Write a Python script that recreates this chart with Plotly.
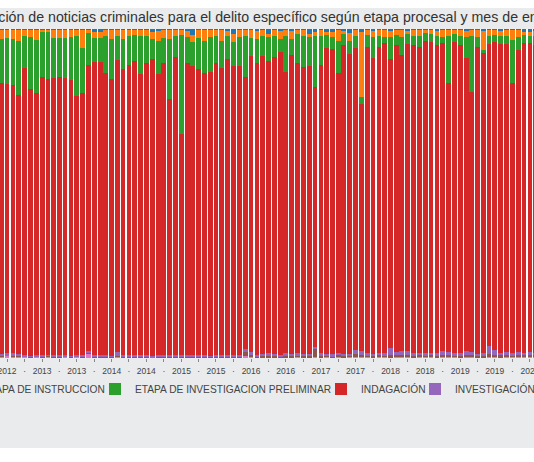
import pandas as pd
import plotly.graph_objects as go

# month of entry (one bar per month), visible window of the chart
months = pd.date_range("2012-06-01", periods=93, freq="MS")

# share (%) of each procedural stage per month
ejecucion = [0.3, 0.3, 0.2, 0.3, 0.2, 0.3, 0.2, 0.2, 0.3, 0.2,
             0.3, 0.2, 0.3, 0.2, 0.3, 0.2, 1.0, 0.8, 0.3, 0.3,
             0.3, 0.2, 0.3, 0.3, 0.2, 0.3, 1.0, 0.5, 0.3, 0.3,
             0.3, 0.3, 0.4, 1.8, 0.3, 0.3, 0.3, 0.3, 0.3, 0.4,
             1.5, 0.3, 0.3, 0.3, 0.4, 0.3, 1.5, 0.3, 0.6, 0.3,
             0.4, 0.3, 0.3, 1.5, 0.8, 0.3, 0.8, 1.0, 0.3, 0.4,
             1.2, 0.3, 1.0, 0.3, 0.4, 0.3, 0.3, 0.5, 0.3, 0.3,
             0.4, 0.3, 0.3, 0.3, 0.3, 0.4, 0.3, 0.3, 0.3, 0.3,
             0.4, 0.3, 0.3, 0.4, 0.3, 0.3, 0.4, 0.3, 0.3, 0.3,
             1.0, 1.0, 0.5]
instruccion = [2.6, 2.3, 2.8, 3.3, 1.9, 2.0, 3.0, 0.7, 0.7, 2.4,
               2.5, 2.4, 2.2, 1.9, 5.4, 1.0, 1.6, 2.0, 1.7, 2.7,
               1.7, 2.8, 1.7, 1.5, 2.0, 1.9, 2.0, 3.0, 2.3, 2.6,
               1.7, 1.6, 2.1, 2.0, 2.5, 3.3, 2.2, 1.7, 3.3, 1.6,
               2.6, 2.2, 1.7, 2.5, 2.6, 1.7, 1.0, 1.7, 2.4, 1.7,
               2.6, 1.2, 1.7, 0.8, 1.2, 1.7, 1.0, 1.5, 3.3, 1.1,
               2.4, 1.7, 19.6, 1.5, 2.1, 1.7, 2.0, 2.0, 1.5, 2.0,
               1.2, 1.7, 1.9, 0.9, 1.2, 1.6, 2.0, 1.7, 1.2, 1.7,
               1.9, 1.7, 2.2, 6.0, 1.7, 1.4, 1.8, 1.7, 3.0, 2.2,
               0.7, 1.0, 1.5]
preliminar = [13.6, 14.2, 14.1, 16.6, 9.7, 16.0, 16.2, 13.6, 14.3, 12.2,
              11.7, 12.4, 13.0, 18.3, 13.7, 9.8, 7.4, 7.2, 11.3, 12.3,
              7.5, 9.1, 9.0, 7.9, 11.6, 8.2, 6.0, 10.3, 7.6, 18.3,
              6.4, 30.1, 7.7, 7.4, 9.3, 9.7, 10.7, 8.4, 8.2, 7.2,
              7.1, 8.7, 12.5, 5.4, 7.2, 6.2, 7.2, 6.4, 4.0, 11.1,
              5.0, 8.9, 9.5, 8.9, 15.5, 9.0, 3.9, 3.7, 9.9, 3.3,
              4.1, 3.7, 2.2, 3.6, 6.4, 3.5, 2.1, 6.5, 3.1, 5.6,
              3.1, 2.9, 3.3, 2.3, 2.5, 2.9, 2.1, 14.5, 2.5, 2.9,
              6.6, 17.1, 3.0, 0.8, 2.7, 2.3, 2.3, 2.5, 13.2, 3.9,
              2.7, 2.4, 3.0]
indagacion = [82.2, 81.7, 81.5, 78.7, 87.3, 81.0, 79.6, 84.7, 83.7, 84.3,
              84.7, 84.1, 83.8, 78.6, 79.8, 86.8, 89.2, 89.2, 85.9, 84.0,
              88.8, 87.0, 88.1, 89.5, 85.2, 88.8, 90.3, 85.4, 89.0, 77.9,
              90.7, 67.1, 89.0, 87.9, 87.1, 85.7, 86.1, 88.7, 87.4, 89.9,
              87.9, 87.8, 82.7, 90.1, 88.8, 90.6, 88.9, 90.5, 92.0, 85.5,
              90.9, 88.2, 87.2, 87.7, 79.1, 87.6, 93.0, 92.7, 84.9, 93.9,
              91.0, 92.0, 75.2, 93.2, 89.8, 93.0, 94.1, 88.1, 93.4, 90.0,
              93.1, 93.5, 93.0, 95.0, 94.4, 93.7, 93.5, 81.6, 94.6, 93.7,
              88.9, 79.2, 93.2, 91.4, 91.6, 93.7, 94.0, 93.8, 82.1, 91.8,
              94.0, 93.9, 93.5]
investigacion = [0.5, 0.6, 0.5, 0.4, 0.3, 0.3, 0.4, 0.3, 0.3, 0.4,
                 0.3, 0.3, 0.3, 0.4, 0.3, 0.5, 0.3, 0.3, 0.4, 0.3,
                 1.1, 0.4, 0.3, 0.4, 0.5, 0.3, 0.4, 0.3, 0.4, 0.3,
                 0.4, 0.5, 0.3, 0.4, 0.4, 0.5, 0.3, 0.4, 0.3, 0.5,
                 0.4, 0.4, 0.9, 0.5, 0.4, 0.5, 0.6, 0.4, 0.5, 0.6,
                 0.4, 0.5, 0.6, 0.4, 0.5, 0.6, 0.4, 0.5, 0.6, 0.5,
                 0.4, 1.1, 1.0, 0.5, 0.6, 0.5, 0.6, 2.0, 0.6, 1.1,
                 1.3, 0.9, 0.5, 0.6, 0.5, 0.6, 1.1, 0.9, 0.5, 0.6,
                 1.2, 0.6, 0.5, 0.6, 2.6, 1.4, 0.7, 0.7, 0.5, 0.6,
                 0.5, 0.6, 0.5]
juicio = [0.2, 0.2, 0.3, 0.2, 0.2, 0.1, 0.2, 0.2, 0.3, 0.2,
          0.2, 0.2, 0.1, 0.2, 0.2, 0.3, 0.2, 0.2, 0.2, 0.1,
          0.2, 0.2, 0.3, 0.2, 0.2, 0.2, 0.1, 0.2, 0.2, 0.3,
          0.2, 0.2, 0.2, 0.3, 0.2, 0.2, 0.2, 0.3, 0.2, 0.2,
          0.3, 0.4, 1.3, 0.8, 0.4, 0.5, 0.6, 0.5, 0.4, 0.6,
          0.5, 0.7, 0.6, 0.5, 2.6, 0.6, 0.7, 0.5, 0.8, 0.6,
          0.7, 0.9, 0.8, 0.7, 0.6, 0.8, 0.7, 0.6, 0.9, 0.8,
          0.7, 0.6, 0.8, 0.7, 0.9, 0.6, 0.7, 0.8, 0.7, 0.6,
          0.8, 0.9, 0.7, 0.6, 0.8, 0.7, 0.6, 0.8, 0.7, 1.0,
          0.9, 0.8, 0.8]
terminacion = [0.6, 0.7, 0.6, 0.5, 0.4, 0.3, 0.4, 0.3, 0.4, 0.3,
               0.3, 0.4, 0.3, 0.4, 0.3, 1.4, 0.3, 0.3, 0.2, 0.3,
               0.4, 0.3, 0.3, 0.2, 0.3, 0.3, 0.2, 0.3, 0.2, 0.3,
               0.3, 0.2, 0.3, 0.2, 0.2, 0.3, 0.2, 0.2, 0.3, 0.2,
               0.2, 0.2, 0.6, 0.4, 0.2, 0.2, 0.2, 0.2, 0.1, 0.2,
               0.2, 0.2, 0.1, 0.2, 0.3, 0.2, 0.2, 0.1, 0.2, 0.2,
               0.2, 0.3, 0.2, 0.2, 0.1, 0.2, 0.2, 0.3, 0.2, 0.2,
               0.2, 0.1, 0.2, 0.2, 0.2, 0.2, 0.3, 0.2, 0.2, 0.2,
               0.2, 0.2, 0.1, 0.2, 0.3, 0.2, 0.2, 0.2, 0.2, 0.2,
               0.2, 0.3, 0.2]

# bottom to top of the stack; last number = legend entry width
stages = [
    ("TERMINACIÓN ANTICIPADA", terminacion, "#e377c2", 118),
    ("JUICIO", juicio, "#8c564b", 16),
    ("INVESTIGACIÓN", investigacion, "#9467bd", 80),
    ("INDAGACIÓN", indagacion, "#d62728", 49),
    ("ETAPA DE INVESTIGACION PRELIMINAR", preliminar, "#2ca02c", 181),
    ("ETAPA DE INSTRUCCION", instruccion, "#ff7f0e", 107),
    ("EJECUCIÓN DE PENAS", ejecucion, "#1f77b4", 96),
]

title_text = ("Distribución de noticias criminales para el delito específico "
              "según etapa procesal y mes de entrada")

tick_dates = pd.date_range("2012-04-01", "2020-04-01", freq="QS")
tick_text = [str(d.year) if d.month in (1, 7) else "·" for d in tick_dates]

# the chart is wider than the window; only its left part is seen
W, H = 1100, 440
px_per_day = 0.19084
x_start = pd.Timestamp("2012-07-01") - pd.Timedelta(days=7 / px_per_day)
x_end = x_start + pd.Timedelta(days=W / px_per_day)

font = "Liberation Sans, Arial, sans-serif"

fig = go.Figure()
for name, vals, color, lw in stages:
    fig.add_trace(go.Bar(x=months, y=vals, name=name,
                         marker=dict(color=color, line=dict(width=0)),
                         legendwidth=lw))

fig.update_layout(
    width=W, height=H,
    barmode="stack", barnorm="percent", bargap=0.1,
    paper_bgcolor="#e9ebec", plot_bgcolor="white",
    font=dict(family=font, color="#444"),
    margin=dict(l=0, r=0, t=21, b=90, autoexpand=False),
    title=dict(text=title_text, x=0.2365, xanchor="center", xref="container",
               y=1 - 9.5 / H, yanchor="middle", yref="container",
               font=dict(size=14.2, color="#333", family=font)),
    xaxis=dict(type="date", range=[x_start, x_end], tickvals=tick_dates,
               ticktext=tick_text, ticks="outside", ticklen=3, tickcolor="#888",
               tickfont=dict(size=8.5, color="#444"), ticklabeloverflow="allow",
               ticklabelstandoff=2, showgrid=False, zeroline=False,
               showline=False),
    yaxis=dict(range=[0, 100], visible=False, showgrid=False),
    legend=dict(orientation="h", traceorder="reversed", x=-0.18,
                xanchor="left", y=-0.05, yanchor="top",
                font=dict(size=10.2, color="#444"), bgcolor="rgba(0,0,0,0)"),
    showlegend=True,
)

fig.write_html("out.html", post_script="document.body.style.margin = '8px 0 0 0';")
